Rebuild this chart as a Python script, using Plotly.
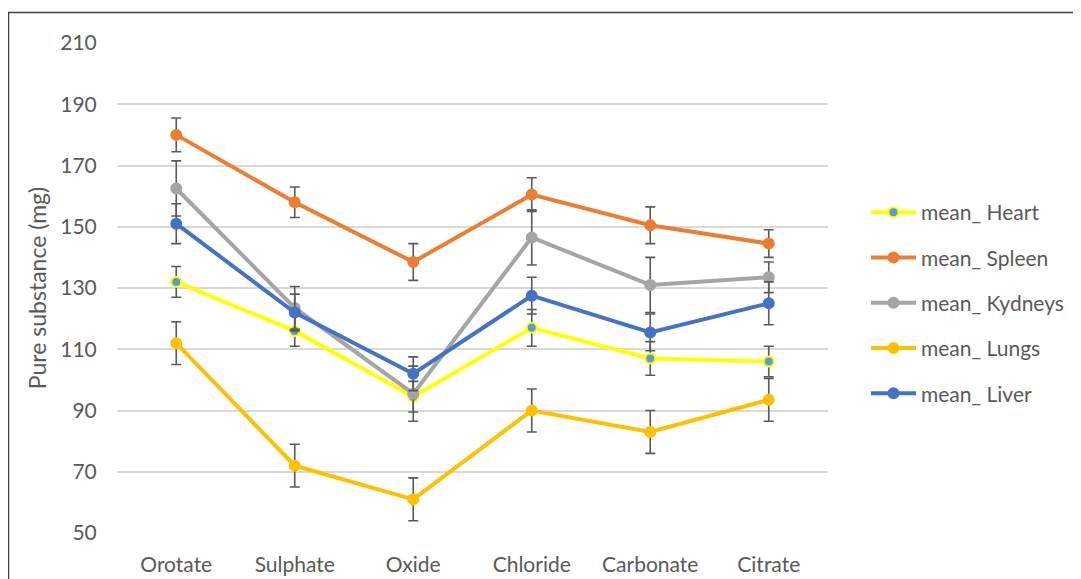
import plotly.graph_objects as go

categories = ["Orotate", "Sulphate", "Oxide", "Chloride", "Carbonate", "Citrate"]

heart = [132, 116, 94.5, 117, 107, 106]
heart_err = [5, 5, 5, 6, 5.5, 5]
spleen = [180, 158, 138.5, 160.5, 150.5, 144.5]
spleen_err = [5.5, 5, 6, 5.5, 6, 4.5]
kydneys = [162.5, 123.5, 95.5, 146.5, 131, 133.5]
kydneys_err = [9, 7, 9, 9, 9, 5]
lungs = [112, 72, 61, 90, 83, 93.5]
lungs_err = [7, 7, 7, 7, 7, 7]
liver = [151, 122, 102, 127.5, 115.5, 125]
liver_err = [6.5, 6, 5.5, 6, 6, 7]

y_ticks = [50, 70, 90, 110, 130, 150, 170, 190, 210]

series = [
    ("mean_ Heart", heart, heart_err, "#FFFF00", "#5B9BD5", "#FFFF00"),
    ("mean_ Spleen", spleen, spleen_err, "#ED7D31", "#ED7D31", "#ED7D31"),
    ("mean_ Kydneys", kydneys, kydneys_err, "#A5A5A5", "#A5A5A5", "#A5A5A5"),
    ("mean_ Lungs", lungs, lungs_err, "#FFC000", "#FFC000", "#FFC000"),
    ("mean_ Liver", liver, liver_err, "#4472C4", "#4472C4", "#4472C4"),
]

FONT = "Lato, Carlito, Calibri, sans-serif"
TXT = "#595959"
FS = 21

fig = go.Figure()
for i, (name, vals, errs, lc, mfill, mline) in enumerate(series):
    fig.add_trace(go.Scatter(
        x=categories, y=vals, name=name, mode="lines+markers",
        legendgroup=f"g{i}",
        line=dict(color=lc, width=4),
        marker=dict(size=10, color=mfill, line=dict(color=mline, width=2)),
        error_y=dict(type="data", array=errs, visible=True,
                     color="#595959", thickness=1.6, width=5),
    ))

# the page body adds an 8px margin, so figure coords = page coords - 8
OFF = 8
W, H = 1081 - OFF, 579 - OFF
L, R, T, B = 117 - OFF, W - (828 - OFF), 43 - OFF, H - (533 - OFF)
pw, ph = W - L - R, H - T - B

def px_x(p):
    return (p - OFF - L) / pw

def px_y(p):
    return (H - B - (p - OFF)) / ph

fig.update_layout(
    width=W, height=H,
    margin=dict(l=L, r=R, t=T, b=B, autoexpand=False),
    paper_bgcolor="white", plot_bgcolor="white",
    font=dict(family=FONT, color=TXT, size=FS),
    showlegend=True,
    legend=dict(
        x=px_x(866), y=px_y(192), xanchor="left", yanchor="top",
        font=dict(size=FS, color=TXT, family=FONT),
        tracegroupgap=15, itemwidth=45,
        bgcolor="rgba(0,0,0,0)",
    ),
    xaxis=dict(
        range=[-0.5, 5.5], showgrid=False, zeroline=False, showline=False,
        automargin=False,
        ticks="outside", ticklen=13, tickcolor="rgba(0,0,0,0)",
        tickfont=dict(size=FS, color=TXT, family=FONT),
    ),
    yaxis=dict(
        range=[50, 210], tickvals=y_ticks, showgrid=True,
        gridcolor="#D9D9D9", gridwidth=1.5, zeroline=False, showline=False,
        automargin=False,
        ticks="outside", ticklen=15, tickcolor="rgba(0,0,0,0)",
        tickfont=dict(size=FS, color=TXT, family=FONT),
        title=dict(text="Pure substance (mg)", standoff=7,
                   font=dict(size=23, color=TXT, family=FONT)),
    ),
    shapes=[
        dict(type="line", xref="paper", yref="paper",
             x0=px_x(8.5), x1=px_x(8.5), y0=px_y(12), y1=px_y(620),
             line=dict(color="#404040", width=1.5)),
        dict(type="line", xref="paper", yref="paper",
             x0=px_x(8), x1=px_x(1100), y0=px_y(12.5), y1=px_y(12.5),
             line=dict(color="#404040", width=1.5)),
    ],
)

fig.write_html("out.html")
